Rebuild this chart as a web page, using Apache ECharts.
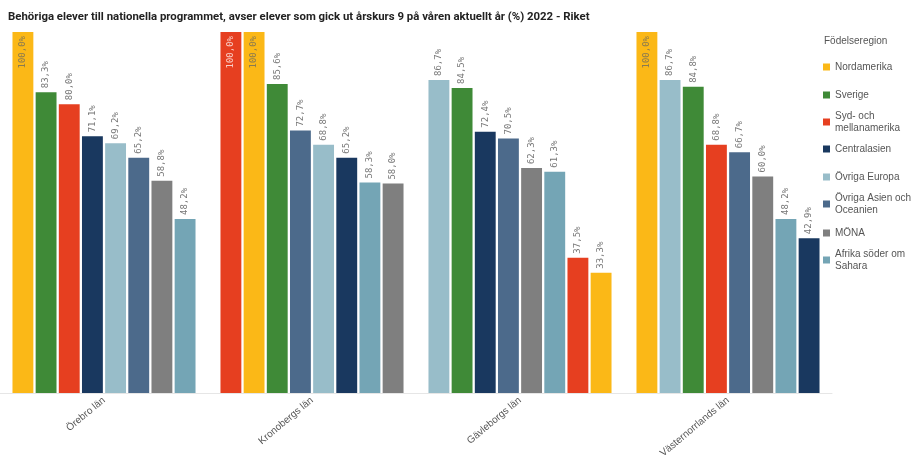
<!DOCTYPE html>
<html>
<head>
<meta charset="utf-8">
<script src="https://cdn.jsdelivr.net/npm/echarts@6/dist/echarts.min.js"></script>
<style>
  html, body { margin: 0; padding: 0; background: #fff; }
  #chart { width: 914px; height: 455px; }
</style>
</head>
<body>
<div id="chart"></div>
<script>
var lan = ['Örebro län', 'Kronobergs län', 'Gävleborgs län', 'Västernorrlands län'];
var regions = ['Nordamerika', 'Sverige', 'Syd- och mellanamerika', 'Centralasien',
    'Övriga Europa', 'Övriga Asien och Oceanien', 'MÖNA', 'Afrika söder om Sahara'];
var legendLabels = ['Nordamerika', 'Sverige', 'Syd- och\nmellanamerika', 'Centralasien',
    'Övriga Europa', 'Övriga Asien och\nOceanien', 'MÖNA', 'Afrika söder om\nSahara'];

// values per region, in the order of lan
var nordamerika = [100, 100, 33.3, 100];
var sverige = [83.3, 85.6, 84.5, 84.8];
var sydMellanamerika = [80.0, 100, 37.5, 68.8];
var centralasien = [71.1, 65.2, 72.4, 42.9];
var ovrigaEuropa = [69.2, 68.8, 86.7, 86.7];
var ovrigaAsien = [65.2, 72.7, 70.5, 66.7];
var mona = [58.8, 58.0, 62.3, 60.0];
var afrika = [48.2, 58.3, 61.3, 48.2];

var colors = ['#fbb817', '#3f8a37', '#e63f20', '#19385f', '#98bdc9', '#4c6a8b', '#7f7f7f', '#74a5b5'];
var legendTops = [61, 89, 110, 143, 171, 192, 227, 248];

var values = [nordamerika, sverige, sydMellanamerika, centralasien, ovrigaEuropa, ovrigaAsien, mona, afrika];

function fmt(v) {
    return v.toFixed(1).replace('.', ',') + '%';
}

// each län sorted descending, bars placed by rank
var sorted = lan.map(function (l, i) {
    var items = regions.map(function (r, k) { return { k: k, v: values[k][i] }; });
    items.sort(function (a, b) { return (b.v - a.v) || (b.k - a.k); });
    return items;
});

var series = [];
for (var j = 0; j < regions.length; j++) {
    var data = sorted.map(function (items) {
        var it = items[j];
        var full = it.v >= 100;
        return {
            value: it.v,
            itemStyle: { color: colors[it.k] },
            label: full ? {
                position: 'insideTop',
                align: 'right',
                distance: 4,
                color: it.k === 2 ? 'rgba(255,255,255,0.75)' : '#8a7a50'
            } : {
                position: 'top',
                align: 'left',
                distance: 4,
                color: '#777'
            }
        };
    });
    series.push({
        name: 'rank' + (j + 1),
        type: 'bar',
        barGap: '11%',
        barCategoryGap: '12%',
        data: data,
        label: {
            show: true,
            rotate: 90,
            verticalAlign: 'middle',
            fontFamily: 'DejaVu Sans Mono',
            fontSize: 9,
            formatter: function (p) { return fmt(p.value); }
        }
    });
}

// legend-only series
regions.forEach(function (r, k) {
    series.push({ name: r, type: 'line', data: [], color: colors[k] });
});

var legends = regions.map(function (r, k) {
    return {
        left: 823,
        top: legendTops[k],
        orient: 'vertical',
        data: [r],
        icon: 'rect',
        itemWidth: 7,
        itemHeight: 7,
        selectedMode: false,
        padding: 0,
        formatter: function () { return legendLabels[k]; },
        textStyle: { fontFamily: 'Liberation Sans', fontSize: 10, lineHeight: 12, color: '#555' }
    };
});

var chart = echarts.init(document.getElementById('chart'));
chart.setOption({
    animation: false,
    title: [{
        text: 'Behöriga elever till nationella programmet, avser elever som gick ut årskurs 9 på våren aktuellt år (%) 2022 - Riket',
        left: 8,
        top: 12,
        padding: 0,
        textStyle: { fontFamily: 'Roboto', fontWeight: 'bold', fontSize: 11.4, color: '#222' }
    }, {
        text: 'Födelseregion',
        left: 824,
        top: 36,
        padding: 0,
        textStyle: { fontFamily: 'Liberation Sans', fontWeight: 'normal', fontSize: 10, color: '#555' }
    }],
    legend: legends,
    grid: { left: 0, top: 32, width: 832, bottom: 62, outerBoundsMode: 'none', containLabel: false },
    xAxis: {
        type: 'category',
        data: lan,
        axisLine: { lineStyle: { color: '#e6e6e6' } },
        axisTick: { show: false },
        axisLabel: {
            rotate: 40,
            margin: 6,
            fontFamily: 'Liberation Sans',
            fontSize: 10,
            color: '#555'
        }
    },
    yAxis: {
        type: 'value',
        min: 0,
        max: 100,
        show: false,
        splitLine: { show: false }
    },
    series: series
});
</script>
</body>
</html>
